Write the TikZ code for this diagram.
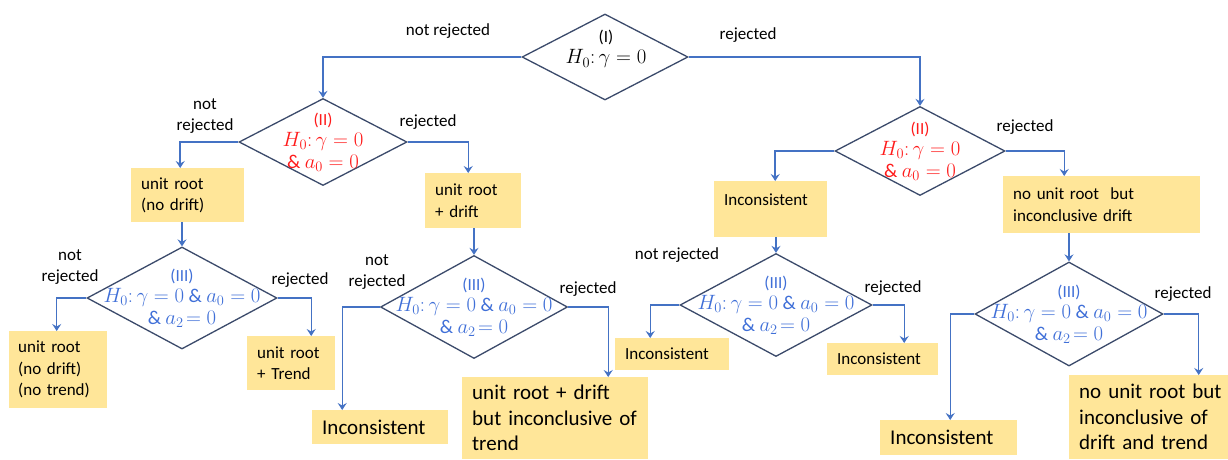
\documentclass[tikz,border=0pt]{standalone}
\usepackage{fontspec}
\setmainfont{Carlito}
\usetikzlibrary{arrows.meta,shapes.geometric}
\definecolor{boxfill}{HTML}{FFE699}
\definecolor{connc}{HTML}{4472C4}
\definecolor{diaedge}{HTML}{3B4A6B}
\definecolor{htblue}{HTML}{3F6FD8}
\definecolor{htred}{HTML}{FF1A1A}
\newcommand\nrmfs{\fontsize{17}{21.5}\selectfont}
\newcommand\bigfs{\fontsize{21}{25.5}\selectfont}
\newcommand\mth[1]{{\fontsize{19.5}{21.5}\selectfont$#1$}}
\begin{document}
\begin{tikzpicture}[x=1pt,y=-1pt,
  dia/.style={diamond, draw=diaedge, line width=1.3pt, inner sep=0pt, fill=white},
  box/.style={fill=boxfill, anchor=north west, align=left, inner xsep=10pt, inner ysep=0pt, font=\nrmfs},
  bigbox/.style={box, font=\bigfs},
  lbl/.style={font=\nrmfs, align=center, inner sep=0pt},
  dtxt/.style={font=\nrmfs, align=center, inner sep=0pt},
  cn/.style={draw=connc, line width=1.1pt, -{Stealth[length=7pt,width=9pt,inset=2.5pt]}},
  cnthick/.style={cn, line width=1.8pt}]
\fill[white] (0,0) rectangle (1228,459);
\useasboundingbox (0,0) rectangle (1228,459);

% diamonds
\node[dia, minimum width=166pt, minimum height=86pt] (d1) at (605,57) {};
\node[dtxt] (t1) at (606,49) {(I)\\\mth{H_0\colon \gamma = 0}};

\node[dia, minimum width=168pt, minimum height=87pt] (d2l) at (323,142) {};
\node[dtxt, text=htred] (t2l) at (d2l) {(II)\\\mth{H_0\colon \gamma = 0}\\\mth{\&\ a_0 = 0}};

\node[dia, minimum width=170pt, minimum height=89pt] (d2r) at (920,151) {};
\node[dtxt, text=htred] (t2r) at (d2r) {(II)\\\mth{H_0\colon \gamma = 0}\\\mth{\&\ a_0 = 0}};

\node[dia, minimum width=190pt, minimum height=102pt] (d3a) at (182,298) {};
\node[dtxt, text=htblue] (t3a) at (d3a) {(III)\\\mth{H_0\colon \gamma = 0\ \&\ a_0 = 0}\\\mth{\&\ a_2\!= 0}};

\node[dia, minimum width=187pt, minimum height=103pt] (d3b) at (474,307) {};
\node[dtxt, text=htblue] (t3b) at (d3b) {(III)\\\mth{H_0\colon \gamma = 0\ \&\ a_0 = 0}\\\mth{\&\ a_2\!= 0}};

\node[dia, minimum width=192pt, minimum height=103pt] (d3c) at (776,305) {};
\node[dtxt, text=htblue] (t3c) at (d3c) {(III)\\\mth{H_0\colon \gamma = 0\ \&\ a_0 = 0}\\\mth{\&\ a_2\!= 0}};

\node[dia, minimum width=188pt, minimum height=104pt] (d3d) at (1069,314) {};
\node[dtxt, text=htblue] (t3d) at (d3d) {(III)\\\mth{H_0\colon \gamma = 0\ \&\ a_0 = 0}\\\mth{\&\ a_2\!= 0}};

% boxes
\node[box, text width=93pt, minimum height=54pt] (b1) at (131,168) {unit root\\(no drift)};
\node[box, text width=76pt, minimum height=55pt] (b2) at (425,173) {unit root\\+ drift};
\node[box, text width=93pt, minimum height=56pt] (b3) at (714,181) {Inconsistent\\[-3pt]\mbox{}};
\node[box, text width=177pt, minimum height=57pt] (b4) at (1003,176) {no unit root\ \ but\\inconclusive drift};
\node[box, text width=80pt, minimum height=77pt, inner xsep=9pt] (b5) at (9,331) {unit root\\(no drift)\\(no trend)};
\node[box, text width=68pt, minimum height=54pt] (b6) at (247,336) {unit root\\+ Trend};
\node[bigbox, text width=116pt, minimum height=34pt] (b7) at (312,410) {Inconsistent};
\node[bigbox, text width=166pt, minimum height=82pt] (b8) at (462,377) {unit root + drift\\but inconclusive of\\trend};
\node[box, text width=94pt, minimum height=32pt] (b9) at (615,338) {Inconsistent};
\node[box, text width=91pt, minimum height=32pt] (b10) at (827,343) {Inconsistent};
\node[bigbox, text width=117pt, minimum height=35pt] (b11) at (880,420) {Inconsistent};
\node[bigbox, text width=152pt, minimum height=84pt] (b12) at (1069,375) {no unit root but\\inconclusive of\\drift and trend};

% labels
\node[lbl] (l1) at (448,31) {not rejected};
\node[lbl] (l2) at (748,35) {rejected};
\node[lbl] (l3) at (205,116) {not\\rejected};
\node[lbl] (l4) at (428,122) {rejected};
\node[lbl] (l5) at (1025,127) {rejected};
\node[lbl] (l6) at (70,267) {not\\rejected};
\node[lbl] (l7) at (300,280) {rejected};
\node[lbl] (l8) at (377,272) {not\\rejected};
\node[lbl] (l9) at (588,289) {rejected};
\node[lbl] (l10) at (677,255) {not rejected};
\node[lbl] (l11) at (893,288) {rejected};
\node[lbl] (l12) at (1183,294) {rejected};

% connectors
\draw[cnthick] (d1.west) -| (d2l.north);
\draw[cnthick] (d1.east) -| (d2r.north);
\draw[cnthick] (d2l.west) -| ([xshift=-7.5pt]b1.north);
\draw[cn] (d2l.east) -| ([xshift=-5pt]b2.north);
\draw[cnthick] (d2r.west) -| ([xshift=4.5pt]b3.north);
\draw[cn] (d2r.east) -| ([xshift=-37.5pt]b4.north);
\draw[cn] (b1.south -| d3a.north) -- (d3a.north);
\draw[cn] (b2.south -| d3b.north) -- (d3b.north);
\draw[cn] (b3.south -| d3c.north) -- (d3c.north);
\draw[cn] (b4.south -| d3d.north) -- (d3d.north);
\draw[cn] (d3a.west) -| ([xshift=-1.5pt]b5.north);
\draw[cn] (d3a.east) -| ([xshift=20pt]b6.north);
\draw[cn] (d3b.west) -| ([xshift=-38pt]b7.north);
\draw[cn] (d3b.east) -| ([xshift=53pt]b8.north);
\draw[cn] (d3c.west) -| ([xshift=-22pt]b9.north);
\draw[cn] (d3c.east) -| ([xshift=21.5pt]b10.north);
\draw[cn] (d3d.west) -| ([xshift=1.5pt]b11.north);
\draw[cn] (d3d.east) -| ([xshift=43.5pt]b12.north);
\end{tikzpicture}
\end{document}
